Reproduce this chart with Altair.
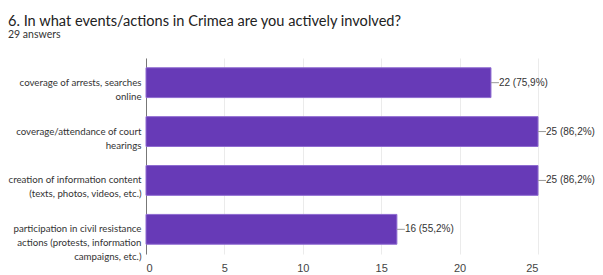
import altair as alt
import pandas as pd

categories = [
    "coverage of arrests, searches|online",
    "coverage/attendance of court|hearings",
    "creation of information content|(texts, photos, videos, etc.)",
    "participation in civil resistance|actions (protests, information|campaigns, etc.)",
]
counts = [22, 25, 25, 16]
labels = ["22 (75,9%)", "25 (86,2%)", "25 (86,2%)", "16 (55,2%)"]

df = pd.DataFrame({"cat": categories, "count": counts, "label": labels})

y = alt.Y("cat:N", sort=categories, title=None,
          scale=alt.Scale(paddingInner=0.39, paddingOuter=0.2),
          axis=alt.Axis(labelExpr="split(datum.label, '|')", labelFont="Lato",
                        labelFontSize=9.7, labelColor="#333333", labelLineHeight=14,
                        ticks=False, domainColor="#777777", labelPadding=5, labelLimit=200))
x = alt.X("count:Q", title=None,
          scale=alt.Scale(domain=[0, 25], nice=False),
          axis=alt.Axis(values=[0, 5, 10, 15, 20, 25], grid=True, gridColor="#ebebeb",
                        domain=False, ticks=False, labelFont="Liberation Sans",
                        labelFontSize=11, labelColor="#444444", labelPadding=8))

bars = alt.Chart(df).mark_bar(color="#673ab7", stroke="#8e6bd0", strokeWidth=1).encode(x=x, y=y)
rules = alt.Chart(df).mark_rule(color="#999999", x2Offset=8).encode(x="count:Q", x2="count:Q", y=alt.Y("cat:N", sort=categories, bandPosition=0.5))
text = alt.Chart(df).mark_text(align="left", dx=8, font="Liberation Sans", fontSize=10, color="#333333").encode(
    x="count:Q", y=alt.Y("cat:N", sort=categories), text="label:N")

chart = (bars + rules + text).properties(
    width=392, height=196,
    title=alt.TitleParams(
        "6. In what events/actions in Crimea are you actively involved?",
        subtitle="29 answers", anchor="start", frame="group", dx=-138, offset=18,
        font="Lato", fontSize=14.6, fontWeight="normal", color="#222222",
        subtitleFont="Lato", subtitleFontSize=10.5, subtitleColor="#333333", subtitlePadding=1),
    autosize=alt.AutoSizeParams(type="none"),
    padding={"left": 138, "top": 50, "right": 57, "bottom": 21},
).configure_view(stroke=None)

chart.save("out.html", embed_options={"renderer": "svg", "actions": False})
